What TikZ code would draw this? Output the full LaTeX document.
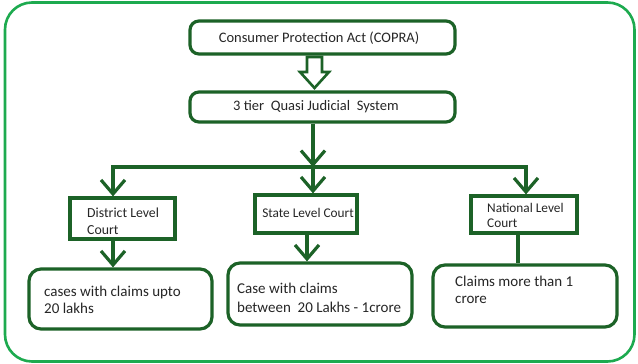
\documentclass[tikz,border=0pt]{standalone}
\usepackage{fontspec}
\setmainfont{Carlito}
\usetikzlibrary{arrows.meta,calc}
\definecolor{dg}{HTML}{1C6227}
\definecolor{fg}{HTML}{1DAA4F}
\begin{document}
\begin{tikzpicture}[x=1pt,y=-1pt,
  box/.style={draw=dg, line width=3.2pt, rounded corners=9pt, inner sep=0pt},
  court/.style={draw=dg, line width=3.2pt, inner sep=0pt},
  res/.style={draw=dg, line width=3.2pt, rounded corners=12pt, inner sep=0pt},
  conn/.style={draw=dg, line width=3.2pt},
  arr/.style={conn, -{Straight Barb[length=14pt,width=24pt]}},
  txt/.style={inner sep=0pt, text=black!85, align=left}
]
\useasboundingbox (0,0) rectangle (638,364);
\fill[white] (0,0) rectangle (638,364);
\draw[fg, line width=2.6pt, rounded corners=27pt] (5,2.5) rectangle (634.5,361.5);

% boxes
\node[box, minimum width=265pt, minimum height=33pt] (copra) at (322.5,37.5) {};
\node[txt, font=\fontsize{14.5}{17}\selectfont] (tcopra) at (319,38) {Consumer Protection Act (COPRA)};
\node[box, minimum width=265pt, minimum height=30pt] (sys) at (322.5,107) {};
\node[txt, font=\fontsize{14.5}{17}\selectfont] (tsys) at (316,107) {3 tier\ \ Quasi Judicial\ \ System};

\node[court, minimum width=105pt, minimum height=41pt] (dist) at (122.5,218.5) {};
\node[txt, anchor=west, font=\fontsize{13.8}{17}\selectfont] (tdist) at (87,221.5) {District Level\\Court};
\node[court, minimum width=102pt, minimum height=38pt] (state) at (306,214) {};
\node[txt, font=\fontsize{13.3}{15}\selectfont] (tstate) at (308,213) {State Level Court};
\node[court, minimum width=106pt, minimum height=37pt] (nat) at (524,214.5) {};
\node[txt, anchor=west, font=\fontsize{13.3}{15.5}\selectfont] (tnat) at (487,215.5) {National Level\\Court};

\node[res, minimum width=183pt, minimum height=60pt] (r1) at (120.5,299) {};
\node[txt, anchor=west, font=\fontsize{15}{17}\selectfont] (tr1) at (44,300) {cases with claims upto\\20 lakhs};
\node[res, minimum width=184pt, minimum height=62pt] (r2) at (320,294) {};
\node[txt, anchor=west, font=\fontsize{15}{19}\selectfont] (tr2) at (237,297.5) {Case with claims\\between\ \ 20 Lakhs - 1crore};
\node[res, minimum width=184pt, minimum height=62pt] (r3) at (525,296) {};
\node[txt, anchor=west, font=\fontsize{15}{16.5}\selectfont] (tr3) at (455,290) {Claims more than 1\\crore};

% hollow arrow between the two top boxes
\coordinate (h) at (314.5,57);
\draw[dg, line width=2.6pt, line join=miter, fill=white]
  ($(h)+(-7.5,0)$) -- ($(h)+(7.5,0)$) -- ($(h)+(7.5,15)$) -- ($(h)+(14.5,15)$)
  -- ($(h)+(0,31)$) -- ($(h)+(-14.5,15)$) -- ($(h)+(-7.5,15)$) -- cycle;

% tree connectors
\coordinate (jm) at (313,167);
\coordinate (jl) at (113,167);
\coordinate (jr) at (526,167);
\draw[arr] (sys.south -| jm) -- (jm);
\draw[conn, line cap=rect] (jl) -- (jr);
\draw[arr] (jl) -- (dist.north -| jl);
\draw[arr] (jm) -- (state.north -| jm);
\draw[arr] (jr) -- (nat.north -| jr);

% lower connectors
\coordinate (xl) at (113,0);
\coordinate (xm) at (307,0);
\coordinate (xr) at (518,0);
\draw[arr] (dist.south -| xl) -- (r1.north -| xl);
\draw[arr] (state.south -| xm) -- (r2.north -| xm);
\draw[conn] (nat.south -| xr) -- (r3.north -| xr);
\end{tikzpicture}
\end{document}
